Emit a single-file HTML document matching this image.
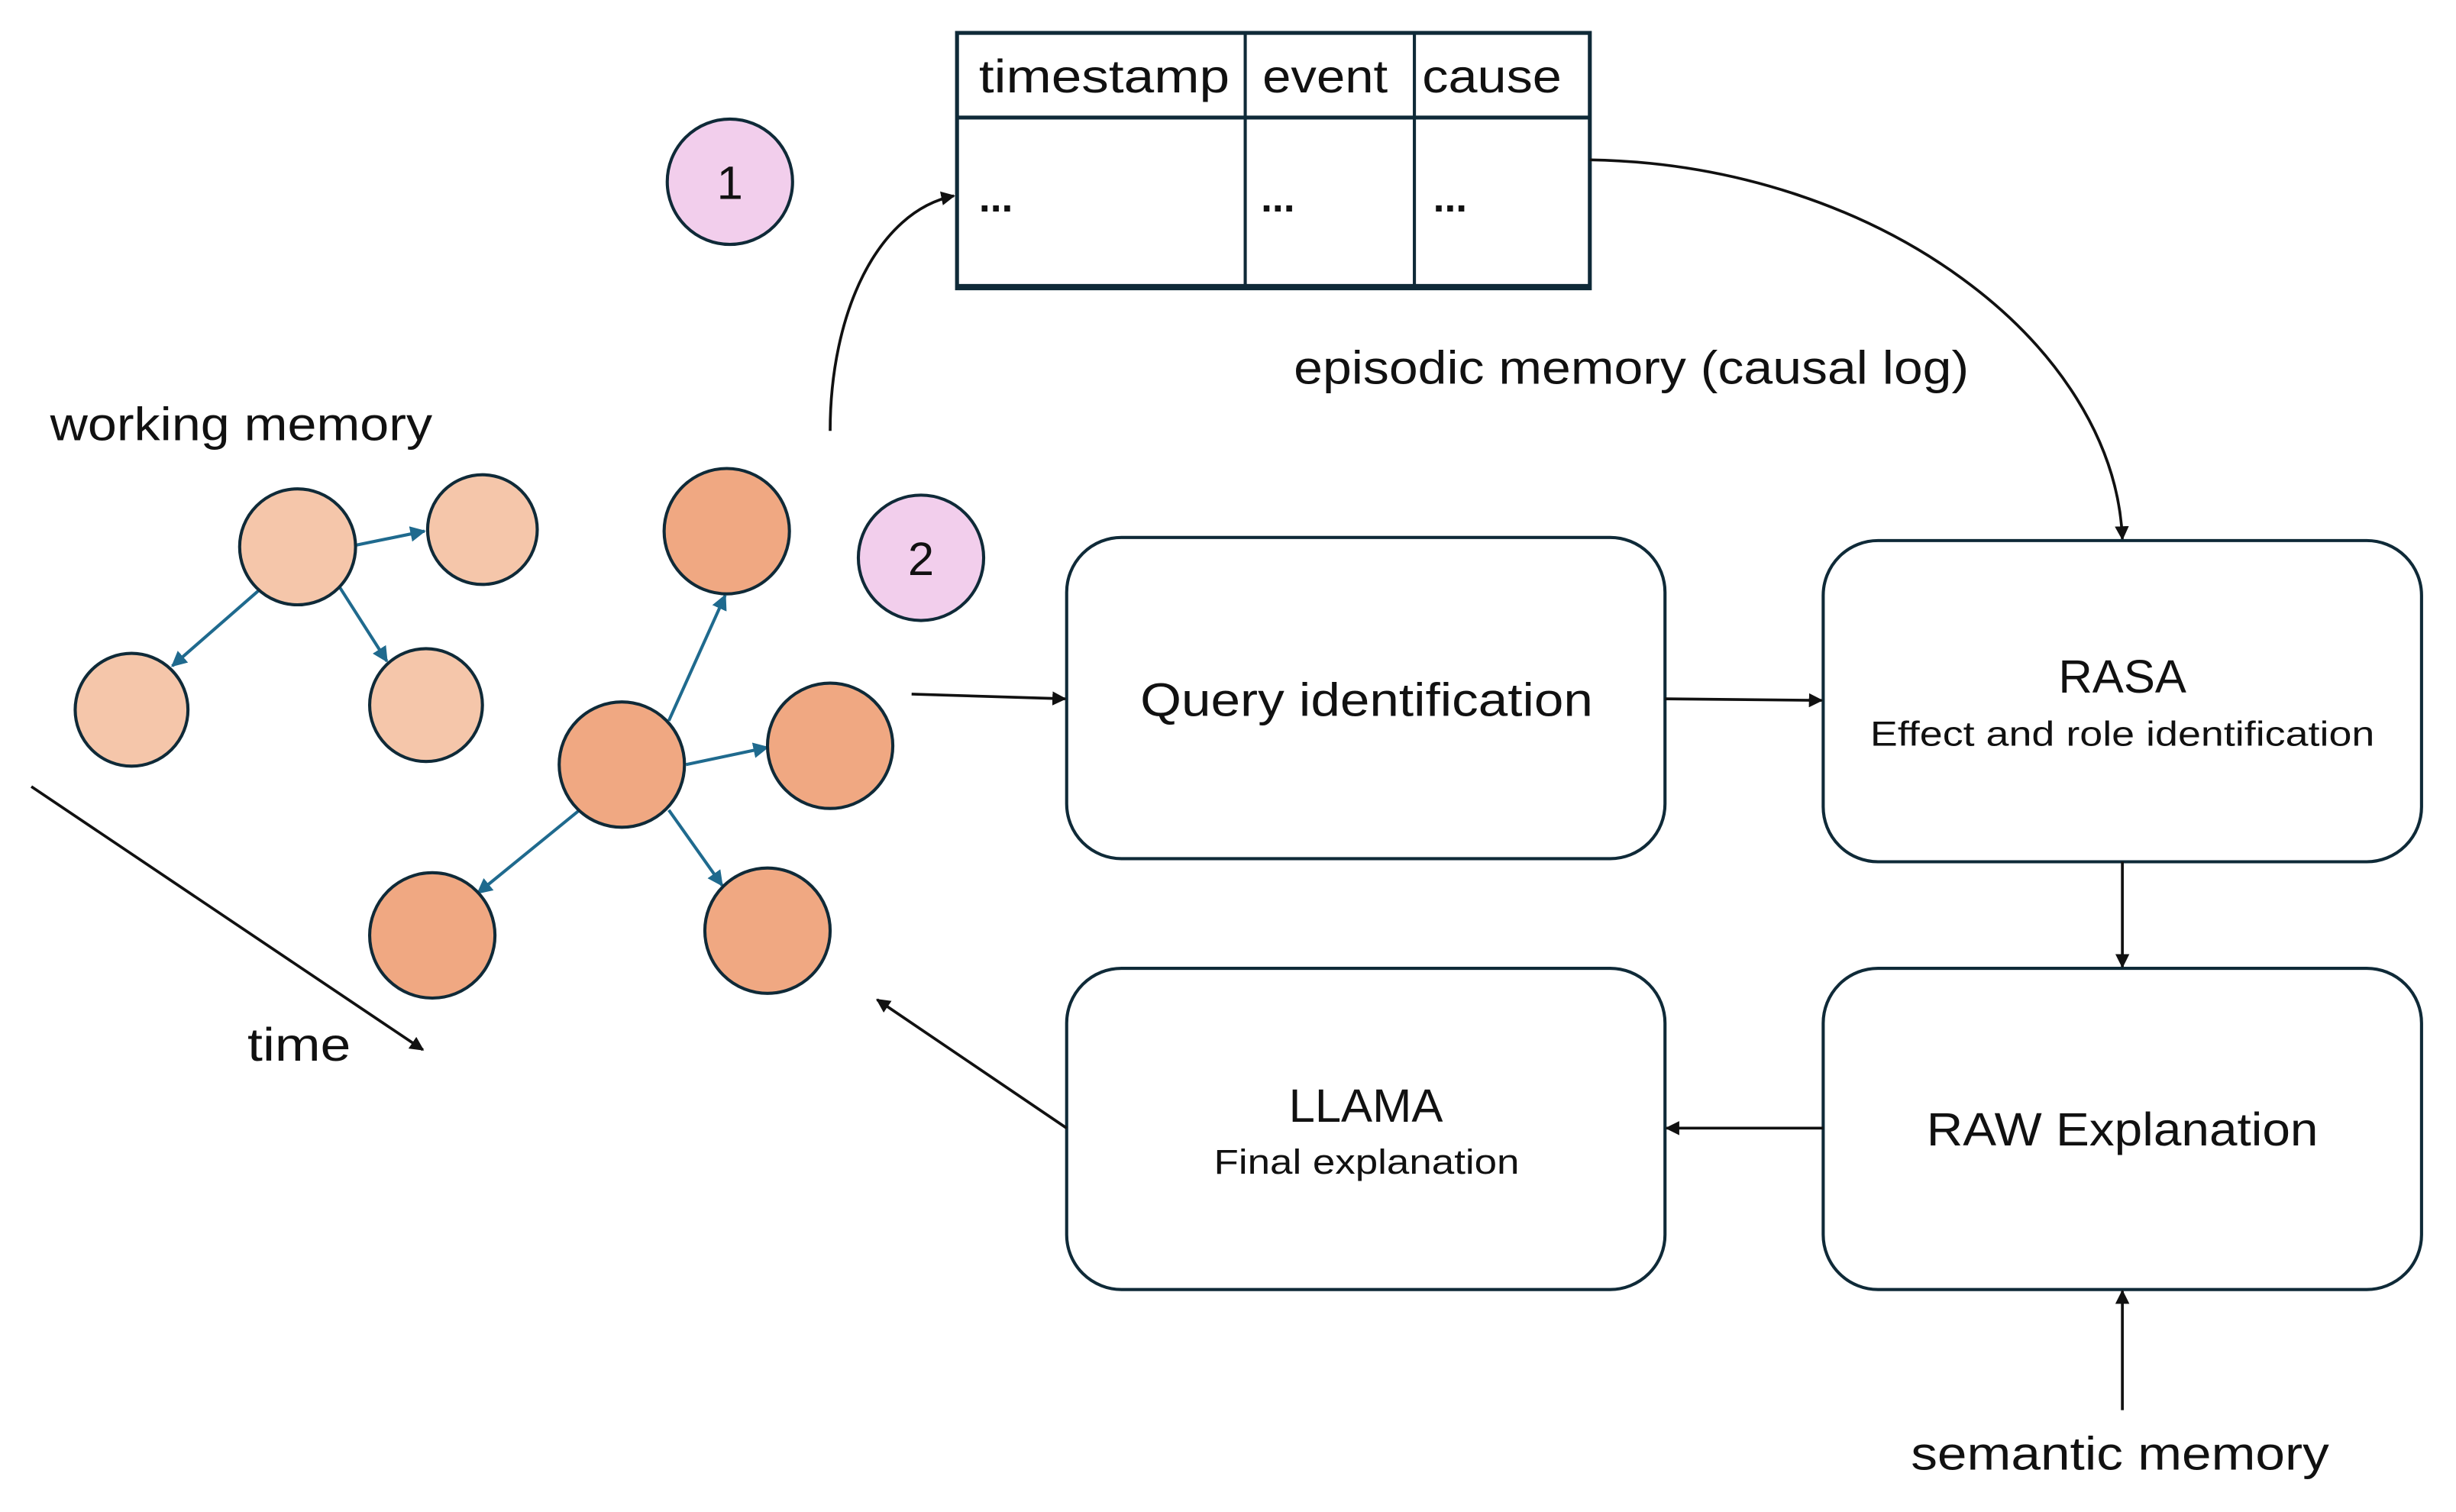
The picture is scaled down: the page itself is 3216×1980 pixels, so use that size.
<!DOCTYPE html>
<html><head><meta charset="utf-8"><style>
html,body{margin:0;padding:0;background:#fff;width:3216px;height:1980px;overflow:hidden}
svg{display:block}
text{font-family:"Liberation Sans",sans-serif;fill:#111}
</style></head><body>
<svg width="3216" height="1980" viewBox="0 0 1568 965" preserveAspectRatio="none" xmlns="http://www.w3.org/2000/svg">
<defs>
<marker id="a" viewBox="0 0 10 10" refX="9" refY="5" markerWidth="5" markerHeight="5" orient="auto"><path d="M0,0L10,5L0,10z" fill="#111"/></marker>
<marker id="b" viewBox="0 0 10 10" refX="9" refY="5" markerWidth="5" markerHeight="5" orient="auto"><path d="M0,0L10,5L0,10z" fill="#1f6a8e"/></marker>
</defs>
<rect x="611" y="21" width="404" height="163" fill="#fff" stroke="#0f2a38" stroke-width="2.5"/>
<line x1="611" y1="75" x2="1015" y2="75" stroke="#0f2a38" stroke-width="2.5"/>
<line x1="795" y1="21" x2="795" y2="184" stroke="#0f2a38" stroke-width="2"/>
<line x1="903" y1="21" x2="903" y2="184" stroke="#0f2a38" stroke-width="2"/>
<line x1="611" y1="183" x2="1015" y2="183" stroke="#0f2a38" stroke-width="3.5"/>
<text x="625" y="59" font-size="30" textLength="160" lengthAdjust="spacingAndGlyphs">timestamp</text>
<text x="806" y="59" font-size="30" textLength="80" lengthAdjust="spacingAndGlyphs">event</text>
<text x="908" y="59" font-size="30" textLength="89" lengthAdjust="spacingAndGlyphs">cause</text>
<text x="625" y="135" font-size="26" font-weight="bold">...</text>
<text x="805" y="135" font-size="26" font-weight="bold">...</text>
<text x="915" y="135" font-size="26" font-weight="bold">...</text>
<circle cx="466" cy="116" r="40" fill="#f2ceec" stroke="#0f2a38" stroke-width="2"/>
<text x="466" y="127" font-size="30" text-anchor="middle">1</text>
<circle cx="588" cy="356" r="40" fill="#f2ceec" stroke="#0f2a38" stroke-width="2"/>
<text x="588" y="367" font-size="30" text-anchor="middle">2</text>
<path d="M530,275 C530,200 560,135 609,125" fill="none" stroke="#111" stroke-width="1.8" marker-end="url(#a)"/>
<path d="M1015,102 C1200,105 1350,220 1355,344" fill="none" stroke="#111" stroke-width="1.8" marker-end="url(#a)"/>
<text x="826" y="245" font-size="30" textLength="431" lengthAdjust="spacingAndGlyphs">episodic memory (causal log)</text>
<text x="32" y="281" font-size="30" textLength="244" lengthAdjust="spacingAndGlyphs">working memory</text>
<g stroke="#1f6a8e" stroke-width="2" marker-end="url(#b)">
<line x1="227" y1="348" x2="271" y2="339"/>
<line x1="165" y1="377" x2="110" y2="425"/>
<line x1="217" y1="375" x2="247" y2="422"/>
<line x1="427" y1="460" x2="463" y2="380"/>
<line x1="438" y1="488" x2="490" y2="477"/>
<line x1="370" y1="517" x2="305" y2="570"/>
<line x1="427" y1="517" x2="461" y2="565"/>
</g>
<g fill="#f5c6aa" stroke="#0f2a38" stroke-width="2">
<circle cx="190" cy="349" r="37"/><circle cx="308" cy="338" r="35"/>
<circle cx="84" cy="453" r="36"/><circle cx="272" cy="450" r="36"/>
</g>
<g fill="#f0a882" stroke="#0f2a38" stroke-width="2">
<circle cx="464" cy="339" r="40"/><circle cx="397" cy="488" r="40"/>
<circle cx="530" cy="476" r="40"/><circle cx="276" cy="597" r="40"/>
<circle cx="490" cy="594" r="40"/>
</g>
<line x1="20" y1="502" x2="270" y2="670" stroke="#111" stroke-width="1.8" marker-end="url(#a)"/>
<text x="158" y="677" font-size="30" textLength="66" lengthAdjust="spacingAndGlyphs">time</text>
<g fill="#fff" stroke="#0f2a38" stroke-width="2">
<rect x="681" y="343" width="382" height="205" rx="35"/>
<rect x="1164" y="345" width="382" height="205" rx="35"/>
<rect x="681" y="618" width="382" height="205" rx="35"/>
<rect x="1164" y="618" width="382" height="205" rx="35"/>
</g>
<text x="728" y="457" font-size="30" textLength="289" lengthAdjust="spacingAndGlyphs">Query identification</text>
<text x="1355" y="442" font-size="30" text-anchor="middle">RASA</text>
<text x="1194" y="476" font-size="22" textLength="322" lengthAdjust="spacingAndGlyphs">Effect and role identification</text>
<text x="872" y="716" font-size="30" text-anchor="middle">LLAMA</text>
<text x="775" y="749" font-size="22" textLength="195" lengthAdjust="spacingAndGlyphs">Final explanation</text>
<text x="1230" y="731" font-size="30" textLength="250" lengthAdjust="spacingAndGlyphs">RAW Explanation</text>
<text x="1220" y="938" font-size="30" textLength="267" lengthAdjust="spacingAndGlyphs">semantic memory</text>
<g stroke="#111" stroke-width="1.8" marker-end="url(#a)">
<line x1="582" y1="443" x2="680" y2="446"/>
<line x1="1063" y1="446" x2="1163" y2="447"/>
<line x1="1355" y1="550" x2="1355" y2="617"/>
<line x1="1164" y1="720" x2="1064" y2="720"/>
<line x1="681" y1="720" x2="560" y2="638"/>
<line x1="1355" y1="900" x2="1355" y2="824"/>
</g>
</svg>
</body></html>
